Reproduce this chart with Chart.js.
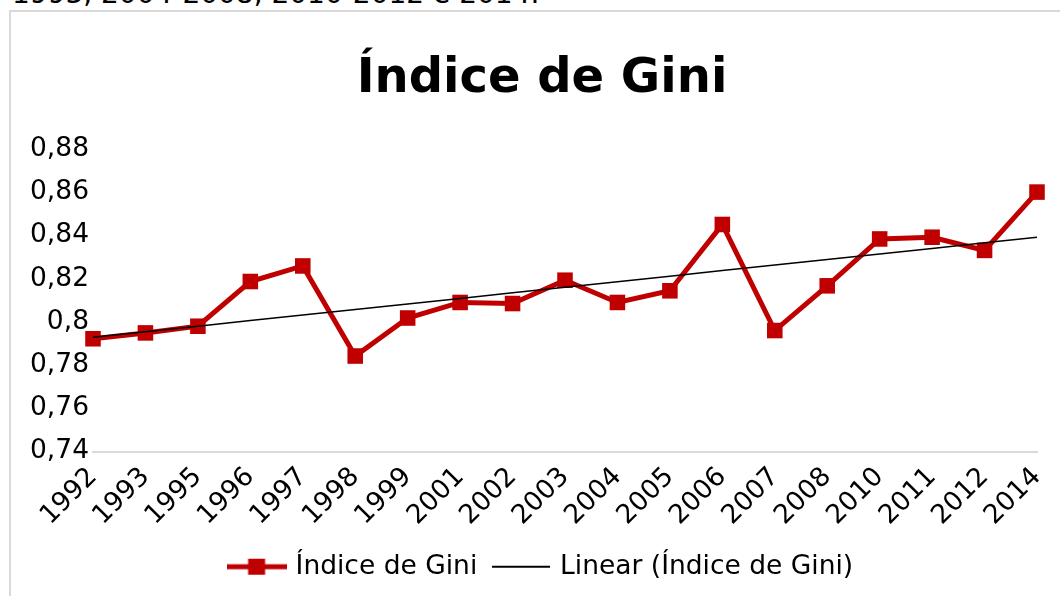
<!DOCTYPE html>
<html lang="pt">
<head>
    <meta charset="UTF-8">
    <title>Índice de Gini</title>
    <script src="https://cdn.jsdelivr.net/npm/chart.js"></script>
    <style>
        body { margin: 0; width: 1060px; height: 596px; overflow: hidden; background: #fff; position: relative; font-family: 'DejaVu Sans', sans-serif; }
        #note { position: absolute; left: 12px; top: -20px; font-size: 28px; line-height: 28px; color: #000; white-space: nowrap; }
        #box { position: absolute; left: 9px; top: 10px; width: 1100px; height: 640px; border: 2px solid #d9d9d9; }
        #wrap { position: absolute; left: 0; top: 0; width: 1062px; height: 594px; }
    </style>
</head>
<body>
    <div id="note">1993, 2004-2008, 2010-2012 e 2014.</div>
    <div id="box">
        <div id="wrap"><canvas id="gini"></canvas></div>
    </div>

    <script>
        const years = ['1992', '1993', '1995', '1996', '1997', '1998', '1999', '2001', '2002', '2003',
                       '2004', '2005', '2006', '2007', '2008', '2010', '2011', '2012', '2014'];
        const gini = [0.7922, 0.7949, 0.7980, 0.8187, 0.8259, 0.7842, 0.8018, 0.8090, 0.8085, 0.8193,
                      0.8090, 0.8144, 0.8451, 0.7960, 0.8167, 0.8384, 0.8392, 0.8331, 0.8601];
        const yTicks = [0.74, 0.76, 0.78, 0.80, 0.82, 0.84, 0.86, 0.88];

        const red = '#C00000';

        // linear trendline (least squares on category index, like Excel)
        function linearFit(vals) {
            const n = vals.length;
            let sx = 0, sy = 0, sxx = 0, sxy = 0;
            vals.forEach((v, i) => { sx += i; sy += v; sxx += i * i; sxy += i * v; });
            const b = (n * sxy - sx * sy) / (n * sxx - sx * sx);
            const a = (sy - b * sx) / n;
            return vals.map((v, i) => a + b * i);
        }
        const trend = linearFit(gini);

        // legend symbols: line with marker / plain line
        function legendIcon(w, color, lw, marker) {
            const c = document.createElement('canvas');
            c.width = w; c.height = 20;
            const g = c.getContext('2d');
            g.fillStyle = color;
            g.fillRect(0, 10 - lw / 2, w, lw);
            if (marker) g.fillRect(w / 2 - 8.5, 2, 17, 16);
            return c;
        }
        const iconGini = legendIcon(60, red, 5, true);
        const iconTrend = legendIcon(58, '#000', 2, false);

        Chart.defaults.font.family = "'DejaVu Sans', sans-serif";
        Chart.defaults.color = '#000';

        new Chart(document.getElementById('gini'), {
            type: 'line',
            data: {
                labels: years,
                datasets: [
                    {
                        label: 'Linear (Índice de Gini)',
                        data: trend,
                        borderColor: '#000',
                        borderWidth: 1.5,
                        pointRadius: 0,
                        tension: 0
                    },
                    {
                        label: 'Índice de Gini',
                        data: gini,
                        borderColor: red,
                        borderWidth: 5,
                        pointStyle: 'rect',
                        pointRadius: 11,
                        pointBackgroundColor: red,
                        pointBorderWidth: 0,
                        tension: 0,
                        clip: false
                    }
                ]
            },
            options: {
                responsive: true,
                maintainAspectRatio: false,
                animation: false,
                layout: { padding: { left: 0, right: 0, top: 0, bottom: 16 } },
                plugins: {
                    tooltip: { enabled: false },
                    title: {
                        display: true,
                        text: 'Índice de Gini',
                        font: { size: 48, weight: 'bold', lineHeight: 1.2 },
                        padding: { top: 39, bottom: 40.5 }
                    },
                    legend: {
                        position: 'bottom',
                        labels: {
                            usePointStyle: true,
                            pointStyleWidth: 51.5,
                            padding: 18,
                            font: { size: 26.5 },
                            generateLabels: () => [
                                { text: 'Índice de Gini', pointStyle: iconGini, fillStyle: red, strokeStyle: red, lineWidth: 0, datasetIndex: 1 },
                                { text: 'Linear (Índice de Gini)', pointStyle: iconTrend, fillStyle: '#000', strokeStyle: '#000', lineWidth: 0, datasetIndex: 0 }
                            ]
                        }
                    }
                },
                scales: {
                    x: {
                        grid: { display: false },
                        border: { display: true, color: '#d9d9d9', width: 2 },
                        ticks: { autoSkip: false, maxRotation: 45, minRotation: 45, font: { size: 26.5 }, padding: 2 },
                        afterFit: s => { s.height = 84; }
                    },
                    y: {
                        min: 0.74,
                        max: 0.88,
                        grid: { display: false, drawTicks: false },
                        border: { display: false },
                        afterBuildTicks: s => { s.ticks = yTicks.map(v => ({ value: v })); },
                        ticks: {
                            padding: 4,
                            font: { size: 26.5 },
                            callback: v => String(Number(v.toFixed(2))).replace('.', ',')
                        },
                        afterFit: s => { s.width = 82; }
                    },
                    // empty right-hand axis, only reserves space right of the plot
                    yRight: {
                        position: 'right',
                        grid: { display: false, drawTicks: false },
                        border: { display: false },
                        ticks: { display: false },
                        afterFit: s => { s.width = 36; }
                    }
                }
            }
        });
    </script>
</body>
</html>
